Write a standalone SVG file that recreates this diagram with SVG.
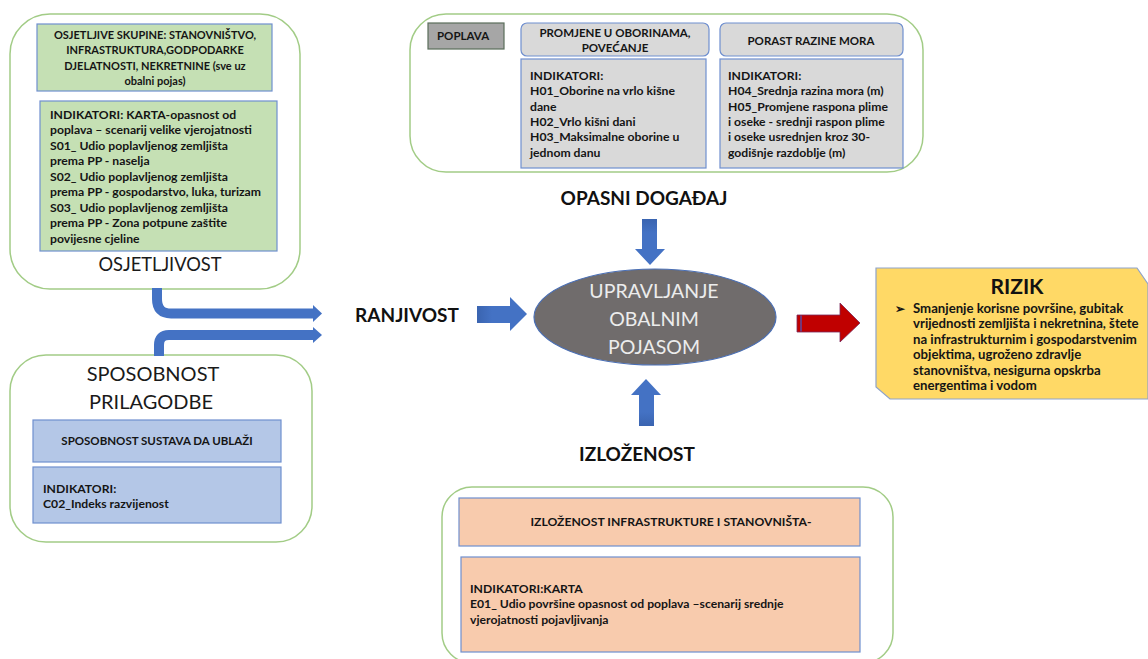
<svg xmlns="http://www.w3.org/2000/svg" width="1148" height="659" viewBox="0 0 1148 659">
<style>
.outer{fill:#ffffff;stroke:#a2cc86;stroke-width:1.5}
.green{fill:#c5e0b4;stroke:#6f8fcf;stroke-width:1.2}
.gray{fill:#d9d9d9;stroke:#6f8fcf;stroke-width:1.2}
.blue{fill:#b4c7e7;stroke:#6f8fcf;stroke-width:1.2}
.orange{fill:#f8cbad;stroke:#6f8fcf;stroke-width:1.2}
.sm{font-family:Lato,"Liberation Sans",sans-serif;font-weight:bold;fill:#151515}
.s11{font-size:11px}
.s115{font-size:11.5px}
.s12{font-size:12.2px}
.s13{font-size:13.2px}
.big{font-family:Lato,"Liberation Sans",sans-serif;fill:#1a1a1a}
.lbl{font-family:Lato,"Liberation Sans",sans-serif;font-weight:bold;font-size:19px;fill:#111}
.ell{font-family:Lato,"Liberation Sans",sans-serif;font-size:19.5px;fill:#ececec;text-anchor:middle}
.mid{text-anchor:middle}
.barrow{fill:#4472c4}
.bline{fill:none;stroke:#4472c4;stroke-width:10}
</style>
<defs>
<linearGradient id="gh" x1="0" y1="0" x2="1" y2="0">
<stop offset="0" stop-color="#3a64b0"/><stop offset="0.3" stop-color="#4472c4"/><stop offset="1" stop-color="#4472c4"/>
</linearGradient>
<linearGradient id="gv" x1="0" y1="0" x2="0" y2="1">
<stop offset="0" stop-color="#3a64b0"/><stop offset="0.3" stop-color="#4472c4"/><stop offset="1" stop-color="#4472c4"/>
</linearGradient>
<linearGradient id="gvu" x1="0" y1="1" x2="0" y2="0">
<stop offset="0" stop-color="#3a64b0"/><stop offset="0.3" stop-color="#4472c4"/><stop offset="1" stop-color="#4472c4"/>
</linearGradient>
</defs>

<g id="osjetljivost">
<rect class="outer" x="10" y="14" width="290" height="275" rx="40"/>
<rect class="green" x="37" y="24" width="235" height="67"/>
<text class="sm s11 mid" x="155" y="39">OSJETLJIVE SKUPINE: STANOVNIŠTVO,</text>
<text class="sm s11 mid" x="155" y="54">INFRASTRUKTURA,GODPODARKE</text>
<text class="sm s11 mid" x="155" y="70">DJELATNOSTI, NEKRETNINE  (sve uz</text>
<text class="sm s11 mid" x="155" y="85">obalni pojas)</text>
<rect class="green" x="40" y="101" width="237" height="150"/>
<text class="sm s12" x="50" y="119">INDIKATORI: KARTA-opasnost od</text>
<text class="sm s12" x="50" y="134">poplava – scenarij velike vjerojatnosti</text>
<text class="sm s12" x="50" y="150">S01_ Udio poplavljenog zemljišta</text>
<text class="sm s12" x="50" y="165">prema PP - naselja</text>
<text class="sm s12" x="50" y="181">S02_ Udio poplavljenog zemljišta</text>
<text class="sm s12" x="50" y="196">prema PP - gospodarstvo, luka, turizam</text>
<text class="sm s12" x="50" y="212">S03_ Udio poplavljenog zemljišta</text>
<text class="sm s12" x="50" y="227">prema PP - Zona potpune zaštite</text>
<text class="sm s12" x="50" y="243">povijesne cjeline</text>
<text class="big mid" x="160" y="271" font-size="18.3">OSJETLJIVOST</text>
</g>

<g id="sposobnost">
<rect class="outer" x="10" y="355" width="302" height="187" rx="36"/>
<text class="big mid" x="153" y="381" font-size="20">SPOSOBNOST</text>
<text class="big mid" x="151" y="409" font-size="20">PRILAGODBE</text>
<rect class="blue" x="33" y="420" width="248" height="42"/>
<text class="sm s115 mid" x="157" y="445">SPOSOBNOST SUSTAVA DA UBLAŽI</text>
<rect class="blue" x="33" y="467" width="248" height="56"/>
<text class="sm s12" x="43" y="493">INDIKATORI:</text>
<text class="sm s12" x="43" y="508">C02_Indeks razvijenost</text>
</g>

<g id="opasni-dogadaj">
<rect class="outer" x="410" y="14" width="513" height="158" rx="36"/>
<rect x="428" y="23" width="76" height="26" fill="#a6a6a6" stroke="#5b6e5b" stroke-width="1.2"/>
<text class="sm s115" x="437" y="40">POPLAVA</text>
<rect class="gray" x="521" y="23" width="188" height="33" rx="6"/>
<text class="sm s115 mid" x="615" y="37">PROMJENE U OBORINAMA,</text>
<text class="sm s115 mid" x="615" y="52">POVEĆANJE</text>
<rect class="gray" x="720" y="23" width="183" height="33" rx="6"/>
<text class="sm s115 mid" x="811" y="45">PORAST RAZINE MORA</text>
<rect class="gray" x="521" y="59" width="185" height="109"/>
<text class="sm s12" x="530" y="80">INDIKATORI:</text>
<text class="sm s12" x="530" y="95">H01_Oborine na vrlo kišne</text>
<text class="sm s12" x="530" y="111">dane</text>
<text class="sm s12" x="530" y="126">H02_Vrlo kišni dani</text>
<text class="sm s12" x="530" y="141">H03_Maksimalne oborine u</text>
<text class="sm s12" x="530" y="157">jednom danu</text>
<rect class="gray" x="720" y="59" width="183" height="109"/>
<text class="sm s12" x="728" y="80">INDIKATORI:</text>
<text class="sm s12" x="728" y="95">H04_Srednja razina mora (m)</text>
<text class="sm s12" x="728" y="111">H05_Promjene raspona plime</text>
<text class="sm s12" x="728" y="126">i oseke - srednji raspon plime</text>
<text class="sm s12" x="728" y="141">i oseke usrednjen kroz 30-</text>
<text class="sm s12" x="728" y="157">godišnje razdoblje (m)</text>
</g>

<g id="izlozenost">
<rect class="outer" x="442" y="487" width="451" height="176" rx="30"/>
<rect class="orange" x="459" y="498" width="401" height="48"/>
<text class="sm s12 mid" x="671" y="526">IZLOŽENOST INFRASTRUKTURE I STANOVNIŠTA-</text>
<rect class="orange" x="461" y="557" width="399" height="95"/>
<text class="sm s12" x="470" y="593">INDIKATORI:KARTA</text>
<text class="sm s12" x="470" y="608">E01_ Udio površine opasnost od poplava  –scenarij srednje</text>
<text class="sm s12" x="470" y="624">vjerojatnosti pojavljivanja</text>
</g>

<g id="upravljanje">
<ellipse cx="655" cy="317" rx="121" ry="48" fill="#706c6c" stroke="#4a6fb5" stroke-width="1.2"/>
<text class="ell" x="654" y="298">UPRAVLJANJE</text>
<text class="ell" x="654" y="326">OBALNIM</text>
<text class="ell" x="654" y="354">POJASOM</text>
</g>

<g id="rizik">
<polygon points="876,268 1137,268 1148,284 1148,399 890,399 876,387" fill="#ffd966" stroke="#8fa3c9" stroke-width="1.2"/>
<text x="1017" y="294" font-family="Lato,'Liberation Sans',sans-serif" font-weight="bold" font-size="21" fill="#111" text-anchor="middle">RIZIK</text>
<text class="sm" x="895" y="313" font-size="12">➢</text>
<text class="sm s13" x="913" y="313">Smanjenje korisne površine, gubitak</text>
<text class="sm s13" x="913" y="328">vrijednosti zemljišta i nekretnina, štete</text>
<text class="sm s13" x="913" y="344">na infrastrukturnim i gospodarstvenim</text>
<text class="sm s13" x="913" y="359">objektima, ugroženo zdravlje</text>
<text class="sm s13" x="913" y="375">stanovništva, nesigurna opskrba</text>
<text class="sm s13" x="913" y="390">energentima i vodom</text>
</g>

<g id="labels">
<text class="lbl" x="644" y="205" text-anchor="middle">OPASNI DOGAĐAJ</text>
<text class="lbl" x="407" y="322" text-anchor="middle">RANJIVOST</text>
<text class="lbl" x="637" y="461" text-anchor="middle">IZLOŽENOST</text>
</g>

<g id="connectors">
<path class="bline" d="M157,288 L157,299 Q157,313.5 171,313.5 L314,313.5"/>
<polygon class="barrow" points="313,305 322,313.5 313,322"/>
<path class="bline" d="M159,356 L159,345 Q159,335 169,335 L314,335"/>
<polygon class="barrow" points="313,327 322,335 313,343"/>
<polygon fill="url(#gh)" points="477,306 510,306 510,297 527,314 510,331 510,323 477,323"/>
<polygon fill="url(#gv)" points="642,219 657,219 657,249 665,249 650,265 635,249 642,249"/>
<polygon fill="url(#gvu)" points="639,426 654,426 654,395 661,395 646,379 631,395 639,395"/>
<polygon fill="#c00000" stroke="#7a2a5a" stroke-width="0.8" points="797,315 840,315 840,303 860,323 840,342 840,332 797,332"/>
<line x1="801" y1="315.5" x2="801" y2="331.5" stroke="#5b4aa0" stroke-width="1.5"/>
</g>
</svg>
